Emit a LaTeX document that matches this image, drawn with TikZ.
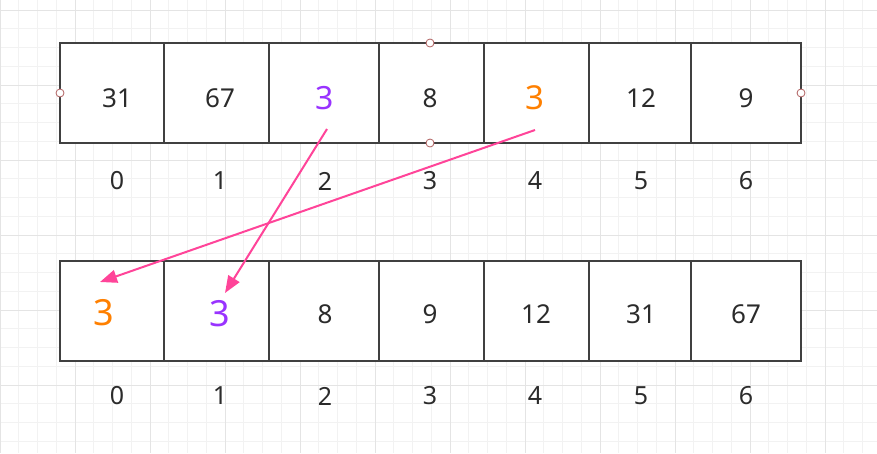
\documentclass[tikz,border=0pt]{standalone}
\usepackage{fontspec}
\setmainfont{Noto Sans}
\usetikzlibrary{arrows.meta}
\definecolor{gridminor}{HTML}{F2F2F2}
\definecolor{gridmajor}{HTML}{E4E4E4}
\definecolor{boxline}{HTML}{404040}
\definecolor{txt}{HTML}{2B2B2B}
\definecolor{purp}{HTML}{9933FF}
\definecolor{orng}{HTML}{FF8000}
\definecolor{pinkline}{HTML}{FF4499}
\definecolor{handle}{HTML}{B06060}
\tikzset{
  cell/.style={draw=boxline, line width=2pt, minimum height=100pt, inner sep=0pt, fill=white},
  val/.style={text=txt, font=\fontsize{26}{30}\selectfont},
  idx/.style={text=txt, font=\fontsize{25}{30}\selectfont},
  bigp/.style={text=purp, font=\fontsize{32}{36}\selectfont},
  bigo/.style={text=orng, font=\fontsize{33}{36}\selectfont},
  bigpb/.style={text=purp, font=\fontsize{36}{40}\selectfont},
  bigob/.style={text=orng, font=\fontsize{36}{40}\selectfont},
  moveline/.style={draw=pinkline, line width=2pt, -{Triangle[length=17pt,width=13pt]}},
  hdl/.style={draw=handle, fill=white, line width=0.8pt, circle, minimum size=8pt, inner sep=0pt}
}
\begin{document}
\begin{tikzpicture}[x=1pt,y=-1pt]
\useasboundingbox (0,0) rectangle (877,453);
\fill[white] (0,0) rectangle (877,453);
% grid
\foreach \i in {0,...,47} {
  \draw[gridminor, line width=1pt] ({\i*18.75},0) -- ({\i*18.75},453);
}
\foreach \j in {0,...,24} {
  \draw[gridminor, line width=1pt] (0,{10+\j*18.75}) -- (877,{10+\j*18.75});
}
\foreach \i in {0,...,11} {
  \draw[gridmajor, line width=1pt] ({\i*75},0) -- ({\i*75},453);
}
\foreach \j in {0,...,6} {
  \draw[gridmajor, line width=1pt] (0,{10+\j*75}) -- (877,{10+\j*75});
}
% top array
\node[cell, minimum width=104pt] (t0) at (112,93) {};
\node[cell, minimum width=105pt] (t1) at (216.5,93) {};
\node[cell, minimum width=110pt] (t2) at (324,93) {};
\node[cell, minimum width=105pt] (t3) at (431.5,93) {};
\node[cell, minimum width=105pt] (t4) at (536.5,93) {};
\node[cell, minimum width=102pt] (t5) at (640,93) {};
\node[cell, minimum width=110pt] (t6) at (746,93) {};
\node[val] (v0) at (117,98) {31};
\node[val] (v1) at (220,98) {67};
\node[bigp] (v2) at (325,98) {3};
\node[val] (v3) at (430,98) {8};
\node[bigo] (v4) at (535,98) {3};
\node[val] (v5) at (641,98) {12};
\node[val] (v6) at (746,98) {9};
% top indices
\foreach \n/\x in {0/117,1/220,2/325,3/430,4/535,5/641,6/746} {
  \node[idx] (ti\n) at (\x,181) {\n};
}
% bottom array
\node[cell, minimum width=104pt] (b0) at (112,311) {};
\node[cell, minimum width=105pt] (b1) at (216.5,311) {};
\node[cell, minimum width=110pt] (b2) at (324,311) {};
\node[cell, minimum width=105pt] (b3) at (431.5,311) {};
\node[cell, minimum width=105pt] (b4) at (536.5,311) {};
\node[cell, minimum width=102pt] (b5) at (640,311) {};
\node[cell, minimum width=110pt] (b6) at (746,311) {};
\node[bigob] (w0) at (104,313) {3};
\node[bigpb] (w1) at (220,314) {3};
\node[val] (w2) at (325,314) {8};
\node[val] (w3) at (430,314) {9};
\node[val] (w4) at (536,314) {12};
\node[val] (w5) at (641,314) {31};
\node[val] (w6) at (746,314) {67};
\foreach \n/\x in {0/117,1/220,2/325,3/430,4/535,5/641,6/746} {
  \node[idx] (bi\n) at (\x,396) {\n};
}
% handles
\node[hdl] (h1) at (430,43) {};
\node[hdl] (h2) at (430,143) {};
\node[hdl] (h3) at (60,93) {};
\node[hdl] (h4) at (801,93) {};
% arrows
\coordinate (p1s) at (327,129);
\coordinate (p1e) at (225,293);
\coordinate (p2s) at (535,130);
\coordinate (p2e) at (100,282);
\draw[moveline] (p1s) -- (p1e);
\draw[moveline] (p2s) -- (p2e);
\end{tikzpicture}
\end{document}
